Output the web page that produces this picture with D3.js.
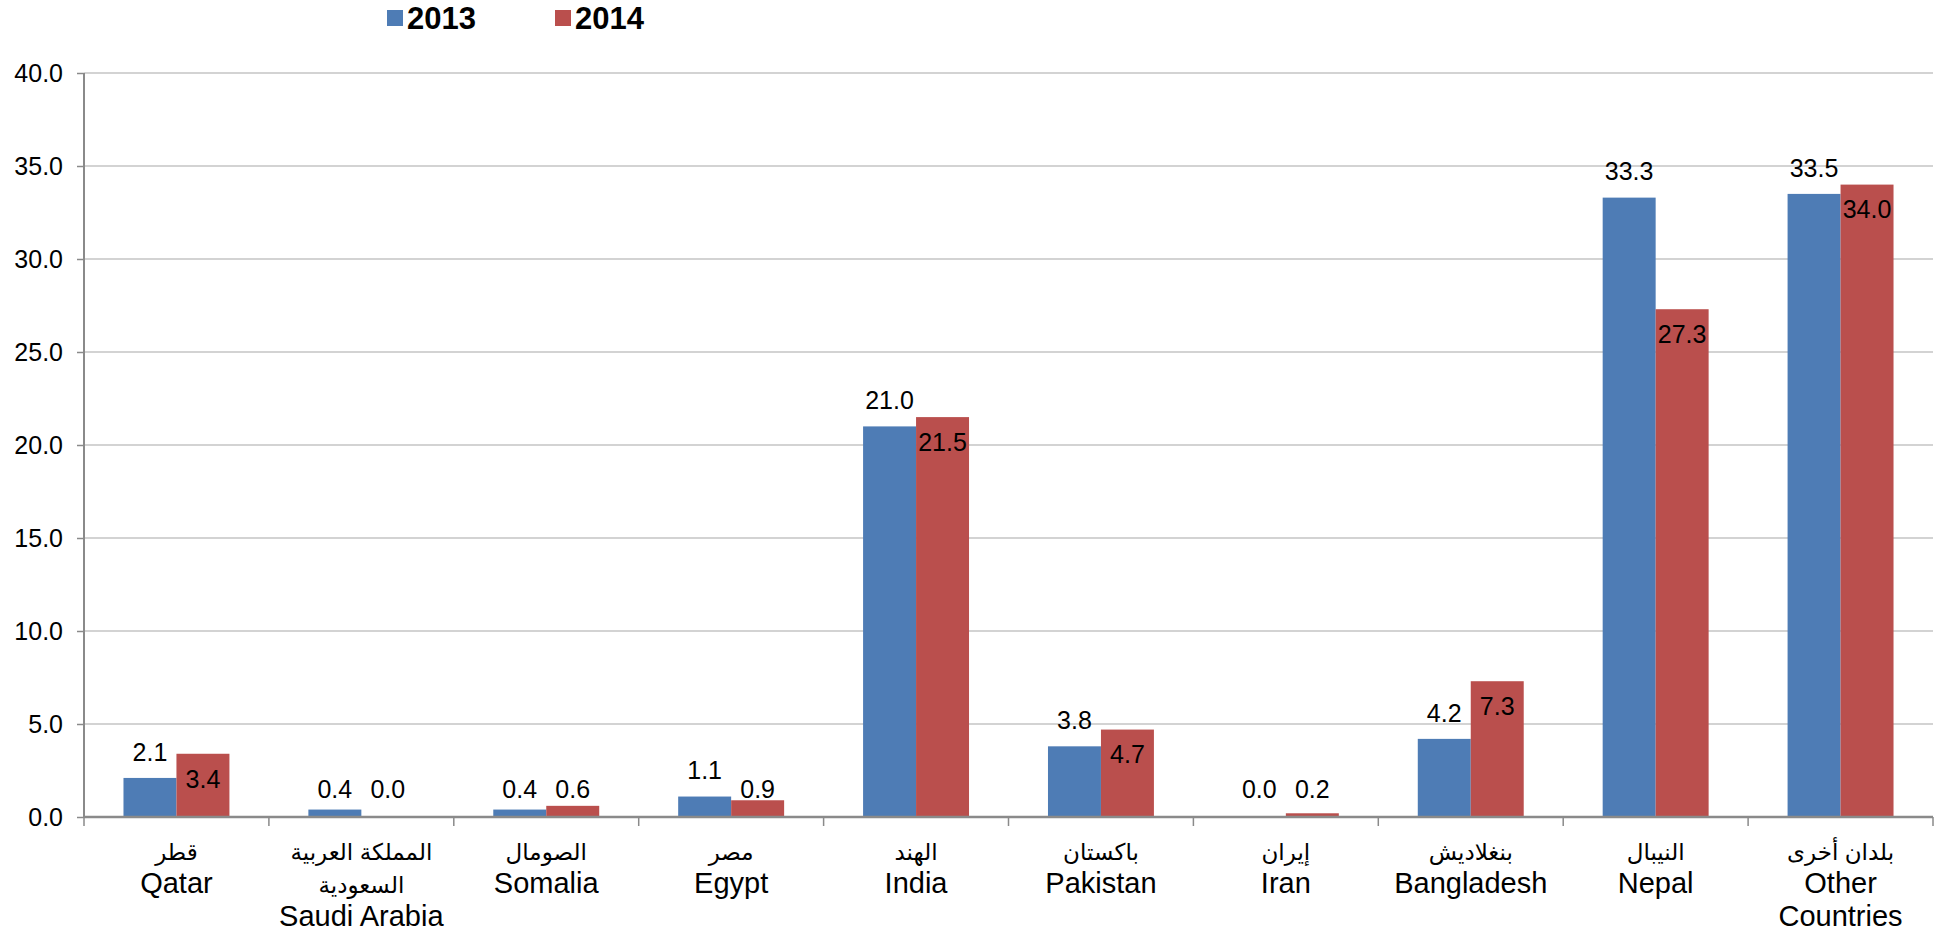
<!DOCTYPE html>
<html>
<head>
<meta charset="utf-8">
<script src="https://cdn.jsdelivr.net/npm/d3@7"></script>
<style>
  body { margin: 0; background: #fff; }
  svg text { font-family: "Liberation Sans", Arial, "DejaVu Sans", sans-serif; }
</style>
</head>
<body>
<div id="chart"></div>
<script>
// 資料
const categories = ["Qatar", "Saudi Arabia", "Somalia", "Egypt", "India", "Pakistan", "Iran", "Bangladesh", "Nepal", "Other Countries"];
const categoryLines = [
  ["قطر", "Qatar"],
  ["المملكة العربية", "السعودية", "Saudi Arabia"],
  ["الصومال", "Somalia"],
  ["مصر", "Egypt"],
  ["الهند", "India"],
  ["باكستان", "Pakistan"],
  ["إيران", "Iran"],
  ["بنغلاديش", "Bangladesh"],
  ["النيبال", "Nepal"],
  ["بلدان أخرى", "Other", "Countries"]
];
const seriesNames = ["2013", "2014"];
const values2013 = [2.1, 0.4, 0.4, 1.1, 21.0, 3.8, 0.0, 4.2, 33.3, 33.5];
const values2014 = [3.4, 0.0, 0.6, 0.9, 21.5, 4.7, 0.2, 7.3, 27.3, 34.0];
const yTicks = [0, 5, 10, 15, 20, 25, 30, 35, 40];
const colors = ["#4e7cb5", "#ba4f4d"];

const W = 1939, H = 937;
const margin = { top: 73, right: 6, bottom: 120, left: 84 };
const width = W - margin.left - margin.right;
const height = H - margin.top - margin.bottom;

const svg = d3.select("#chart").append("svg")
  .attr("width", W)
  .attr("height", H);

const g = svg.append("g")
  .attr("transform", `translate(${margin.left},${margin.top})`);

// 比例尺
const x = d3.scaleBand().domain(categories).range([0, width])
  .paddingInner(0.427).paddingOuter(0.2135);
const xs = d3.scaleBand().domain(seriesNames).range([0, x.bandwidth()]);
const y = d3.scaleLinear().domain([0, 40]).range([height, 0]);

// 水平網格線
g.selectAll(".grid")
  .data(yTicks.slice(1))
  .join("line")
  .attr("x1", 0).attr("x2", width)
  .attr("y1", d => y(d)).attr("y2", d => y(d))
  .attr("stroke", "#c4c4c4")
  .attr("stroke-width", 1.6);

// y 軸
g.append("g")
  .call(d3.axisLeft(y).tickValues(yTicks).tickFormat(d3.format(".1f")).tickSize(7).tickPadding(14))
  .call(a => a.select(".domain").attr("stroke", "#8a8a8a").attr("stroke-width", 2).attr("d", `M0,0V${height}`))
  .call(a => a.selectAll(".tick line").attr("stroke", "#8a8a8a").attr("stroke-width", 1.5))
  .selectAll(".tick text")
  .style("font-size", "25px")
  .attr("fill", "#000");

// 長條
const rows = categories.map((c, i) => ({ cat: c, vals: [values2013[i], values2014[i]] }));
const groups = g.selectAll(".grp")
  .data(rows)
  .join("g")
  .attr("transform", d => `translate(${x(d.cat)},0)`);

groups.selectAll("rect")
  .data(d => d.vals.map((v, k) => ({ s: seriesNames[k], v, k })))
  .join("rect")
  .attr("x", d => xs(d.s))
  .attr("width", xs.bandwidth())
  .attr("y", d => y(d.v))
  .attr("height", d => y(0) - y(d.v))
  .attr("fill", d => colors[d.k]);

// 數據標籤
groups.selectAll(".lbl")
  .data(d => d.vals.map((v, k) => ({ s: seriesNames[k], v, k })))
  .join("text")
  .attr("x", d => xs(d.s) + xs.bandwidth() / 2)
  .attr("y", d => {
    if (d.v < 1) return y(0) - 28;
    return d.k === 0 ? y(d.v) - 26 : y(d.v) + 25;
  })
  .attr("dy", "0.35em")
  .attr("text-anchor", "middle")
  .style("font-size", "25px")
  .attr("fill", "#000")
  .text(d => d3.format(".1f")(d.v));

// x 軸線與刻度
g.append("line")
  .attr("x1", 0).attr("x2", width)
  .attr("y1", y(0)).attr("y2", y(0))
  .attr("stroke", "#8a8a8a").attr("stroke-width", 2.5);

g.selectAll(".xtick")
  .data(d3.range(categories.length + 1))
  .join("line")
  .attr("x1", i => i * x.step()).attr("x2", i => i * x.step())
  .attr("y1", y(0)).attr("y2", y(0) + 9)
  .attr("stroke", "#8a8a8a").attr("stroke-width", 1.5);

// 類別標籤
const arabic = /[\u0600-\u06FF]/;
const cl = g.selectAll(".cat")
  .data(categories)
  .join("text")
  .attr("x", d => x(d) + x.bandwidth() / 2)
  .attr("y", height + 35)
  .attr("text-anchor", "middle")
  .attr("fill", "#000");

cl.selectAll("tspan")
  .data((d, i) => categoryLines[i])
  .join("tspan")
  .attr("x", function () { return d3.select(this.parentNode).attr("x"); })
  .attr("dy", (d, j) => j === 0 ? "0.35em" : "33px")
  .style("font-size", d => arabic.test(d) ? "23px" : "29px")
  .text(d => d);

// 圖例
const legend = svg.append("g");
const legendX = [387, 555];
seriesNames.forEach((s, k) => {
  legend.append("rect")
    .attr("x", legendX[k]).attr("y", 10)
    .attr("width", 16).attr("height", 16)
    .attr("fill", colors[k]);
  legend.append("text")
    .attr("x", legendX[k] + 20).attr("y", 18)
    .attr("dy", "0.35em")
    .style("font-size", "31px")
    .style("font-weight", "bold")
    .attr("fill", "#000")
    .text(s);
});
</script>
</body>
</html>
